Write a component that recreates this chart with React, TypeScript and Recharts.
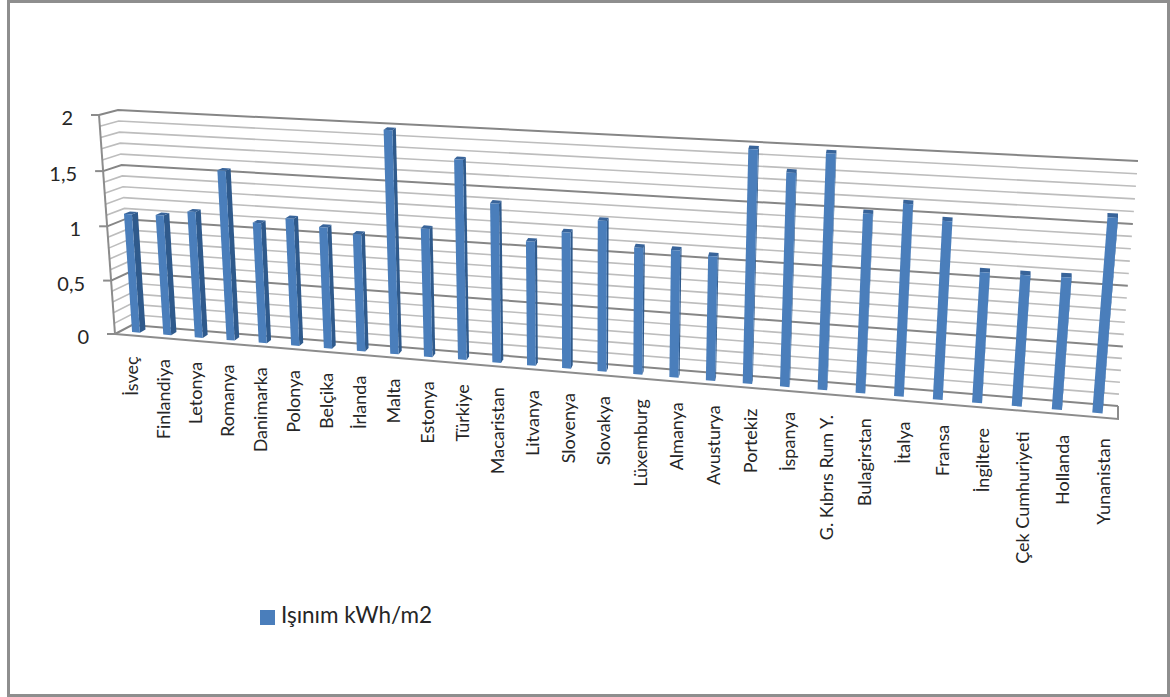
import React from 'react';
import { BarChart, Bar, XAxis, YAxis, CartesianGrid, Legend, ReferenceLine } from 'recharts';

const countries = ['İsveç','Finlandiya','Letonya','Romanya','Danimarka','Polonya','Belçika','İrlanda','Malta','Estonya','Türkiye','Macaristan','Litvanya','Slovenya','Slovakya','Lüxemburg','Almanya','Avusturya','Portekiz','İspanya','G. Kıbrıs Rum Y.','Bulagirstan','İtalya','Fransa','İngiltere','Çek Cumhuriyeti','Hollanda','Yunanistan'];
const irradiance = [1.1,1.11,1.16,1.55,1.1,1.16,1.1,1.06,1.99,1.15,1.77,1.41,1.1,1.2,1.32,1.11,1.11,1.08,1.995,1.82,1.995,1.52,1.62,1.5,1.1,1.1,1.105,1.61];
const valueTicks = [0,0.1,0.2,0.3,0.4,0.5,0.6,0.7,0.8,0.9,1,1.1,1.2,1.3,1.4,1.5,1.6,1.7,1.8,1.9,2];
const seriesName = 'Işınım kWh/m2';

const rows = countries.map((name, i) => ({ name, value: irradiance[i] }));

// Flat plot rectangle handed to Recharts; everything is then projected into 3D.
const CHART_W = 1170;
const CHART_H = 697;
const MARGIN = { left: 80, right: 70, top: 100, bottom: 260 };
const AXIS_W = 20;
const AXIS_H = 20;
const PLOT_L = MARGIN.left + AXIS_W;
const PLOT_T = MARGIN.top;
const PLOT_W = CHART_W - PLOT_L - MARGIN.right;
const PLOT_H = CHART_H - PLOT_T - MARGIN.bottom - AXIS_H;

type Pt = [number, number];

// Unit square to quad homography. Corners: (0,0) (1,0) (1,1) (0,1).
function makeHomography(p0: Pt, p1: Pt, p2: Pt, p3: Pt) {
  const dx1 = p1[0] - p2[0], dx2 = p3[0] - p2[0], sx = p0[0] - p1[0] + p2[0] - p3[0];
  const dy1 = p1[1] - p2[1], dy2 = p3[1] - p2[1], sy = p0[1] - p1[1] + p2[1] - p3[1];
  const det = dx1 * dy2 - dx2 * dy1;
  const g = (sx * dy2 - dx2 * sy) / det;
  const h = (dx1 * sy - sx * dy1) / det;
  const a = p1[0] - p0[0] + g * p1[0], b = p3[0] - p0[0] + h * p3[0], c = p0[0];
  const d = p1[1] - p0[1] + g * p1[1], e = p3[1] - p0[1] + h * p3[1], f = p0[1];
  return (u: number, v: number): Pt => {
    const w = g * u + h * v + 1;
    return [(a * u + b * v + c) / w, (d * u + e * v + f) / w];
  };
}

// Front and back planes of the 3D box: bottom-left, bottom-right, top-right, top-left.
const frontPlane = makeHomography([115, 334], [1118, 419], [1138, 174], [99, 115]);
const backPlane = makeHomography([132, 325], [1118, 406], [1138, 161], [118, 110]);

function project(u: number, v: number, depth: number): Pt {
  const f = frontPlane(u, v);
  const b = backPlane(u, v);
  return [f[0] + (b[0] - f[0]) * depth, f[1] + (b[1] - f[1]) * depth];
}

// Extra foreshortening along the category direction.
const FORESHORTEN = 1.014;
const toU = (x: number) => {
  const u = (x - PLOT_L) / PLOT_W;
  return u / (FORESHORTEN - (FORESHORTEN - 1) * u);
};
const toV = (y: number) => (PLOT_T + PLOT_H - y) / PLOT_H;
const pts = (list: Pt[]) => list.map((p) => `${p[0].toFixed(2)},${p[1].toFixed(2)}`).join(' ');

const BAR_FRONT = 0.33;
const BAR_BACK = 0.67;

function Bar3D(props: any) {
  const { x, y, width, height } = props;
  const u0 = toU(x);
  const u1 = toU(x + width);
  const vTop = toV(y);
  const vBase = toV(y + height);
  const front = [project(u0, vBase, BAR_FRONT), project(u1, vBase, BAR_FRONT), project(u1, vTop, BAR_FRONT), project(u0, vTop, BAR_FRONT)];
  const side = [project(u1, vBase, BAR_FRONT), project(u1, vBase, BAR_BACK), project(u1, vTop, BAR_BACK), project(u1, vTop, BAR_FRONT)];
  const cap = [project(u0, vTop, BAR_FRONT), project(u1, vTop, BAR_FRONT), project(u1, vTop, BAR_BACK), project(u0, vTop, BAR_BACK)];
  return (
    <g>
      <polygon points={pts(side)} fill="#2F5A8C" />
      <polygon points={pts(cap)} fill="#38649A" />
      <polygon points={pts(front)} fill="#4A7EBB" />
    </g>
  );
}

function GridLine3D(props: any) {
  const v = toV(props.y1);
  const major = Math.round(v * 20) % 5 === 0;
  const path = [project(0, v, 0), project(0, v, 1), project(1, v, 1)];
  return <polyline points={pts(path)} fill="none" stroke={major ? '#868686' : '#BDBDBD'} strokeWidth={major ? 2 : 1.6} />;
}

function BoxEdges() {
  return (
    <g fill="none" stroke="#8C8C8C" strokeWidth={2}>
      <polyline points={pts([project(0, 1, 0), project(0, 0, 0)])} />
      <polyline points={pts([project(0, 0, 0), project(1, 0, 0), project(1, 0, 1)])} />
    </g>
  );
}

function ValueTick(props: any) {
  const { y, payload } = props;
  const v = toV(y);
  const isLabelled = Math.round(payload.value * 10) % 5 === 0;
  if (!isLabelled) return null;
  const [ax, ay] = project(0, v, 0);
  return (
    <g>
      <line x1={ax - 8} y1={ay} x2={ax} y2={ay} stroke="#8C8C8C" strokeWidth={2} />
      <text x={ax - 26} y={ay + 2} textAnchor="end" dominantBaseline="central" fontFamily="Lato" fontSize={20} fill="#262626">
        {String(payload.value).replace('.', ',')}
      </text>
    </g>
  );
}

function CountryTick(props: any) {
  const { x, payload } = props;
  const u = toU(x);
  const [fx, fy] = project(u, 0, 0);
  const px = fx + 5.5 * u;
  const top = fy + 21;
  return (
    <text
      x={px}
      y={top}
      transform={`rotate(-90 ${px} ${top})`}
      textAnchor="end"
      dominantBaseline="central"
      fontFamily="Lato"
      fontSize={18}
      fill="#262626"
    >
      {payload.value}
    </text>
  );
}

export default function App() {
  return (
    <div style={{ position: 'absolute', left: 0, top: 0, width: CHART_W, height: CHART_H, background: '#fff', overflow: 'hidden' }}>
      <div style={{ position: 'absolute', left: 7, top: 0, width: 1157, height: 691, border: '3px solid #8E8E8E' }} />
      <BarChart width={CHART_W} height={CHART_H} data={rows} margin={MARGIN} barCategoryGap="37%" style={{ position: 'absolute', left: 0, top: 0 }}>
        <CartesianGrid vertical={false} horizontal={GridLine3D as any} />
        <XAxis dataKey="name" interval={0} height={AXIS_H} axisLine={false} tickLine={false} tick={CountryTick as any} />
        <YAxis domain={[0, 2]} ticks={valueTicks} interval={0} width={AXIS_W} axisLine={false} tickLine={false} tick={ValueTick as any} />
        <ReferenceLine y={0} shape={BoxEdges as any} />
        <Legend
          layout="horizontal"
          verticalAlign="middle"
          align="center"
          iconType="square"
          iconSize={15}
          wrapperStyle={{ left: 256, top: 601, width: 190, fontFamily: 'Lato', fontSize: 22.5, color: '#262626', whiteSpace: 'nowrap' }}
          formatter={(value: string) => <span style={{ color: '#262626', marginLeft: 2 }}>{value}</span>}
        />
        <Bar dataKey="value" name={seriesName} fill="#4A7EBB" shape={Bar3D as any} isAnimationActive={false} />
      </BarChart>
    </div>
  );
}
